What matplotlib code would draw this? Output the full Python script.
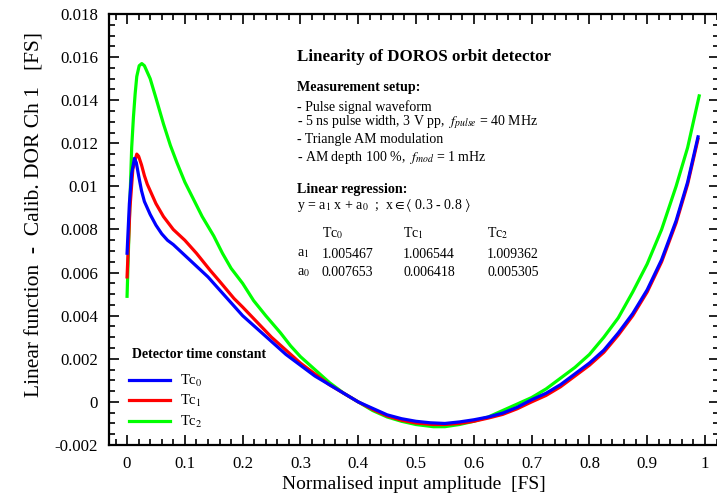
import matplotlib
matplotlib.use("Agg")
import matplotlib.pyplot as plt
from matplotlib.ticker import MultipleLocator, FixedLocator, FixedFormatter

plt.rcParams['font.family'] = ['Liberation Serif', 'DejaVu Serif']
plt.rcParams['mathtext.fontset'] = 'stix'

# ---- data ----
x_tc0 = [0.0, 0.004, 0.008, 0.0127, 0.016, 0.02, 0.025, 0.03, 0.035, 0.04, 0.05, 0.06,
         0.07, 0.08, 0.10, 0.12, 0.14, 0.16, 0.18, 0.20, 0.225, 0.25, 0.275, 0.30,
         0.325, 0.35, 0.375, 0.40, 0.425, 0.45, 0.475, 0.50, 0.525, 0.55, 0.575, 0.60,
         0.625, 0.65, 0.675, 0.70, 0.725, 0.75, 0.775, 0.80, 0.825, 0.85, 0.875, 0.90,
         0.925, 0.95, 0.97, 0.988]
tc0 = [0.0069, 0.0092, 0.0106, 0.0113, 0.0111, 0.0105, 0.0098, 0.0093, 0.0090, 0.0087,
       0.0082, 0.0078, 0.0075, 0.0073, 0.0068, 0.0063, 0.0058, 0.0052, 0.0046, 0.0040,
       0.0034, 0.0028, 0.0022, 0.0017, 0.0012, 0.0008, 0.0004, 0.0000, -0.0003, -0.0006,
       -0.00078, -0.0009, -0.00097, -0.0010, -0.00093, -0.00083, -0.0007, -0.00052,
       -0.00025, 0.0001, 0.0004, 0.0008, 0.0013, 0.0018, 0.0024, 0.0032, 0.0041, 0.0052,
       0.0066, 0.0084, 0.0102, 0.0123]

x_tc1 = [0.0, 0.005, 0.01, 0.0168, 0.02, 0.025, 0.03, 0.035, 0.04, 0.05, 0.063, 0.08,
         0.10, 0.12, 0.144, 0.16, 0.185, 0.20, 0.225, 0.25, 0.275, 0.30, 0.325, 0.35,
         0.375, 0.40, 0.425, 0.45, 0.475, 0.50, 0.53, 0.55, 0.575, 0.60, 0.625, 0.65,
         0.675, 0.70, 0.725, 0.75, 0.775, 0.80, 0.825, 0.85, 0.875, 0.90, 0.925, 0.95,
         0.97, 0.988]
tc1 = [0.0058, 0.0090, 0.0108, 0.0115, 0.0114, 0.0110, 0.0105, 0.0101, 0.0098, 0.0092,
       0.0086, 0.0080, 0.0075, 0.0069, 0.0061, 0.0056, 0.0048, 0.0044, 0.0037, 0.0030,
       0.0024, 0.0018, 0.0013, 0.0008, 0.0004, 0.0000, -0.00035, -0.00065, -0.00085,
       -0.00098, -0.00105, -0.00105, -0.0010, -0.0009, -0.00075, -0.00058, -0.00032,
       0.0000, 0.0003, 0.0007, 0.0012, 0.0017, 0.0023, 0.0031, 0.0040, 0.0051, 0.0065,
       0.0083, 0.0101, 0.0122]

x_tc2 = [0.0, 0.004, 0.008, 0.011, 0.014, 0.0168, 0.021, 0.0255, 0.03, 0.04, 0.05, 0.063,
         0.075, 0.0863, 0.10, 0.115, 0.13, 0.15, 0.165, 0.18, 0.20, 0.219, 0.24, 0.2656,
         0.283, 0.30, 0.325, 0.35, 0.375, 0.40, 0.425, 0.45, 0.475, 0.50, 0.53, 0.55,
         0.575, 0.60, 0.625, 0.65, 0.675, 0.70, 0.725, 0.75, 0.775, 0.80, 0.825, 0.85,
         0.875, 0.90, 0.925, 0.95, 0.97, 0.99]
tc2 = [0.0049, 0.0085, 0.0118, 0.0132, 0.0143, 0.0151, 0.0156, 0.0157, 0.0156, 0.0150,
       0.0141, 0.0129, 0.0119, 0.0111, 0.0102, 0.0094, 0.0086, 0.0077, 0.0069, 0.0062,
       0.0055, 0.0047, 0.0040, 0.0032, 0.0026, 0.0021, 0.0015, 0.0009, 0.0004, 0.0000,
       -0.0004, -0.0007, -0.0009, -0.00105, -0.00115, -0.00115, -0.00105, -0.0009,
       -0.0007, -0.0004, -0.0001, 0.0002, 0.0006, 0.0011, 0.0016, 0.0022, 0.0030, 0.0039,
       0.0051, 0.0064, 0.0080, 0.0100, 0.0118, 0.0142]

series_names = [r'Tc$_0$', r'Tc$_1$', r'Tc$_2$']

x_ticks = [0, 0.1, 0.2, 0.3, 0.4, 0.5, 0.6, 0.7, 0.8, 0.9, 1.0]
x_ticklabels = ['0', '0.1', '0.2', '0.3', '0.4', '0.5', '0.6', '0.7', '0.8', '0.9', '1']
y_ticks = [-0.002, 0, 0.002, 0.004, 0.006, 0.008, 0.01, 0.012, 0.014, 0.016, 0.018]
y_ticklabels = ['-0.002', '0', '0.002', '0.004', '0.006', '0.008', '0.01', '0.012',
                '0.014', '0.016', '0.018']

a1_vals = ['1.005467', '1.006544', '1.009362']
a0_vals = ['0.007653', '0.006418', '0.005305']

# ---- figure ----
W, H = 717, 494
fig = plt.figure(figsize=(W / 100, H / 100), dpi=100)
ax = fig.add_axes([109 / W, 49 / H, 610 / W, 431 / H])

colors = ['#0000ff', '#ff0000', '#00ff00']
l2, = ax.plot(x_tc2, tc2, color=colors[2], lw=2.3)
l1, = ax.plot(x_tc1, tc1, color=colors[1], lw=2.3)
l0, = ax.plot(x_tc0, tc0, color=colors[0], lw=2.3)

ax.set_xlim(-0.03125, 1.0243)
ax.set_ylim(-0.002, 0.018)
ax.xaxis.set_major_locator(FixedLocator(x_ticks))
ax.xaxis.set_major_formatter(FixedFormatter(x_ticklabels))
ax.xaxis.set_minor_locator(MultipleLocator(0.02))
ax.yaxis.set_major_locator(FixedLocator(y_ticks))
ax.yaxis.set_major_formatter(FixedFormatter(y_ticklabels))
ax.yaxis.set_minor_locator(MultipleLocator(0.0005))
ax.tick_params(which='both', direction='in', top=True, right=True, width=1.2)
ax.tick_params(which='major', length=7, labelsize=12.2, pad=8)
ax.tick_params(which='minor', length=4)
for s in ax.spines.values():
    s.set_linewidth(1.6)

ax.set_xlabel('Normalised input amplitude  [FS]', fontsize=14, labelpad=3)
ax.set_ylabel('Linear function  -  Calib. DOR Ch 1   [FS]', fontsize=15.5)
ax.yaxis.set_label_coords(-0.106, 0.534)

leg = ax.legend([l0, l1, l2], series_names, loc='lower left', frameon=False,
                fontsize=10.5, handlelength=2.8, handletextpad=0.7,
                labelspacing=0.3, bbox_to_anchor=(0.012, 0.005))

# ---- annotation text ----
def ft(px, py, s, **kw):
    fig.text(px / W, 1 - py / H, s, va='center', ha='left', **kw)

ft(132, 355, 'Detector time constant', fontsize=10, weight='bold')
ft(297, 57, 'Linearity of DOROS orbit detector', fontsize=12.2, weight='bold')
ft(297, 87, 'Measurement setup:', fontsize=10.2, weight='bold')
ft(297, 107, '- Pulse signal waveform', fontsize=10)
ft(297, 122, r'- 5 ns pulse width, 3 V pp,  $f_{pulse}$ = 40 MHz', fontsize=10)
ft(297, 140, '- Triangle AM modulation', fontsize=10)
ft(297, 157, r'- AM depth 100 %,  $f_{mod}$ = 1 mHz', fontsize=10)
ft(297, 190, 'Linear regression:', fontsize=10.2, weight='bold')
ft(297, 205, r'y = a$_1$ x + a$_0$  ;  x$\in\langle$ 0.3 - 0.8 $\rangle$', fontsize=10)
for i, xp in enumerate([322, 403, 487]):
    ft(xp, 233, series_names[i], fontsize=10)
ft(297, 254, r'a$_1$', fontsize=10)
ft(297, 272, r'a$_0$', fontsize=10)
for i, xp in enumerate([322, 403, 487]):
    ft(xp, 254, a1_vals[i], fontsize=10)
    ft(xp, 272, a0_vals[i], fontsize=10)

fig.savefig('out.png', dpi=100)
